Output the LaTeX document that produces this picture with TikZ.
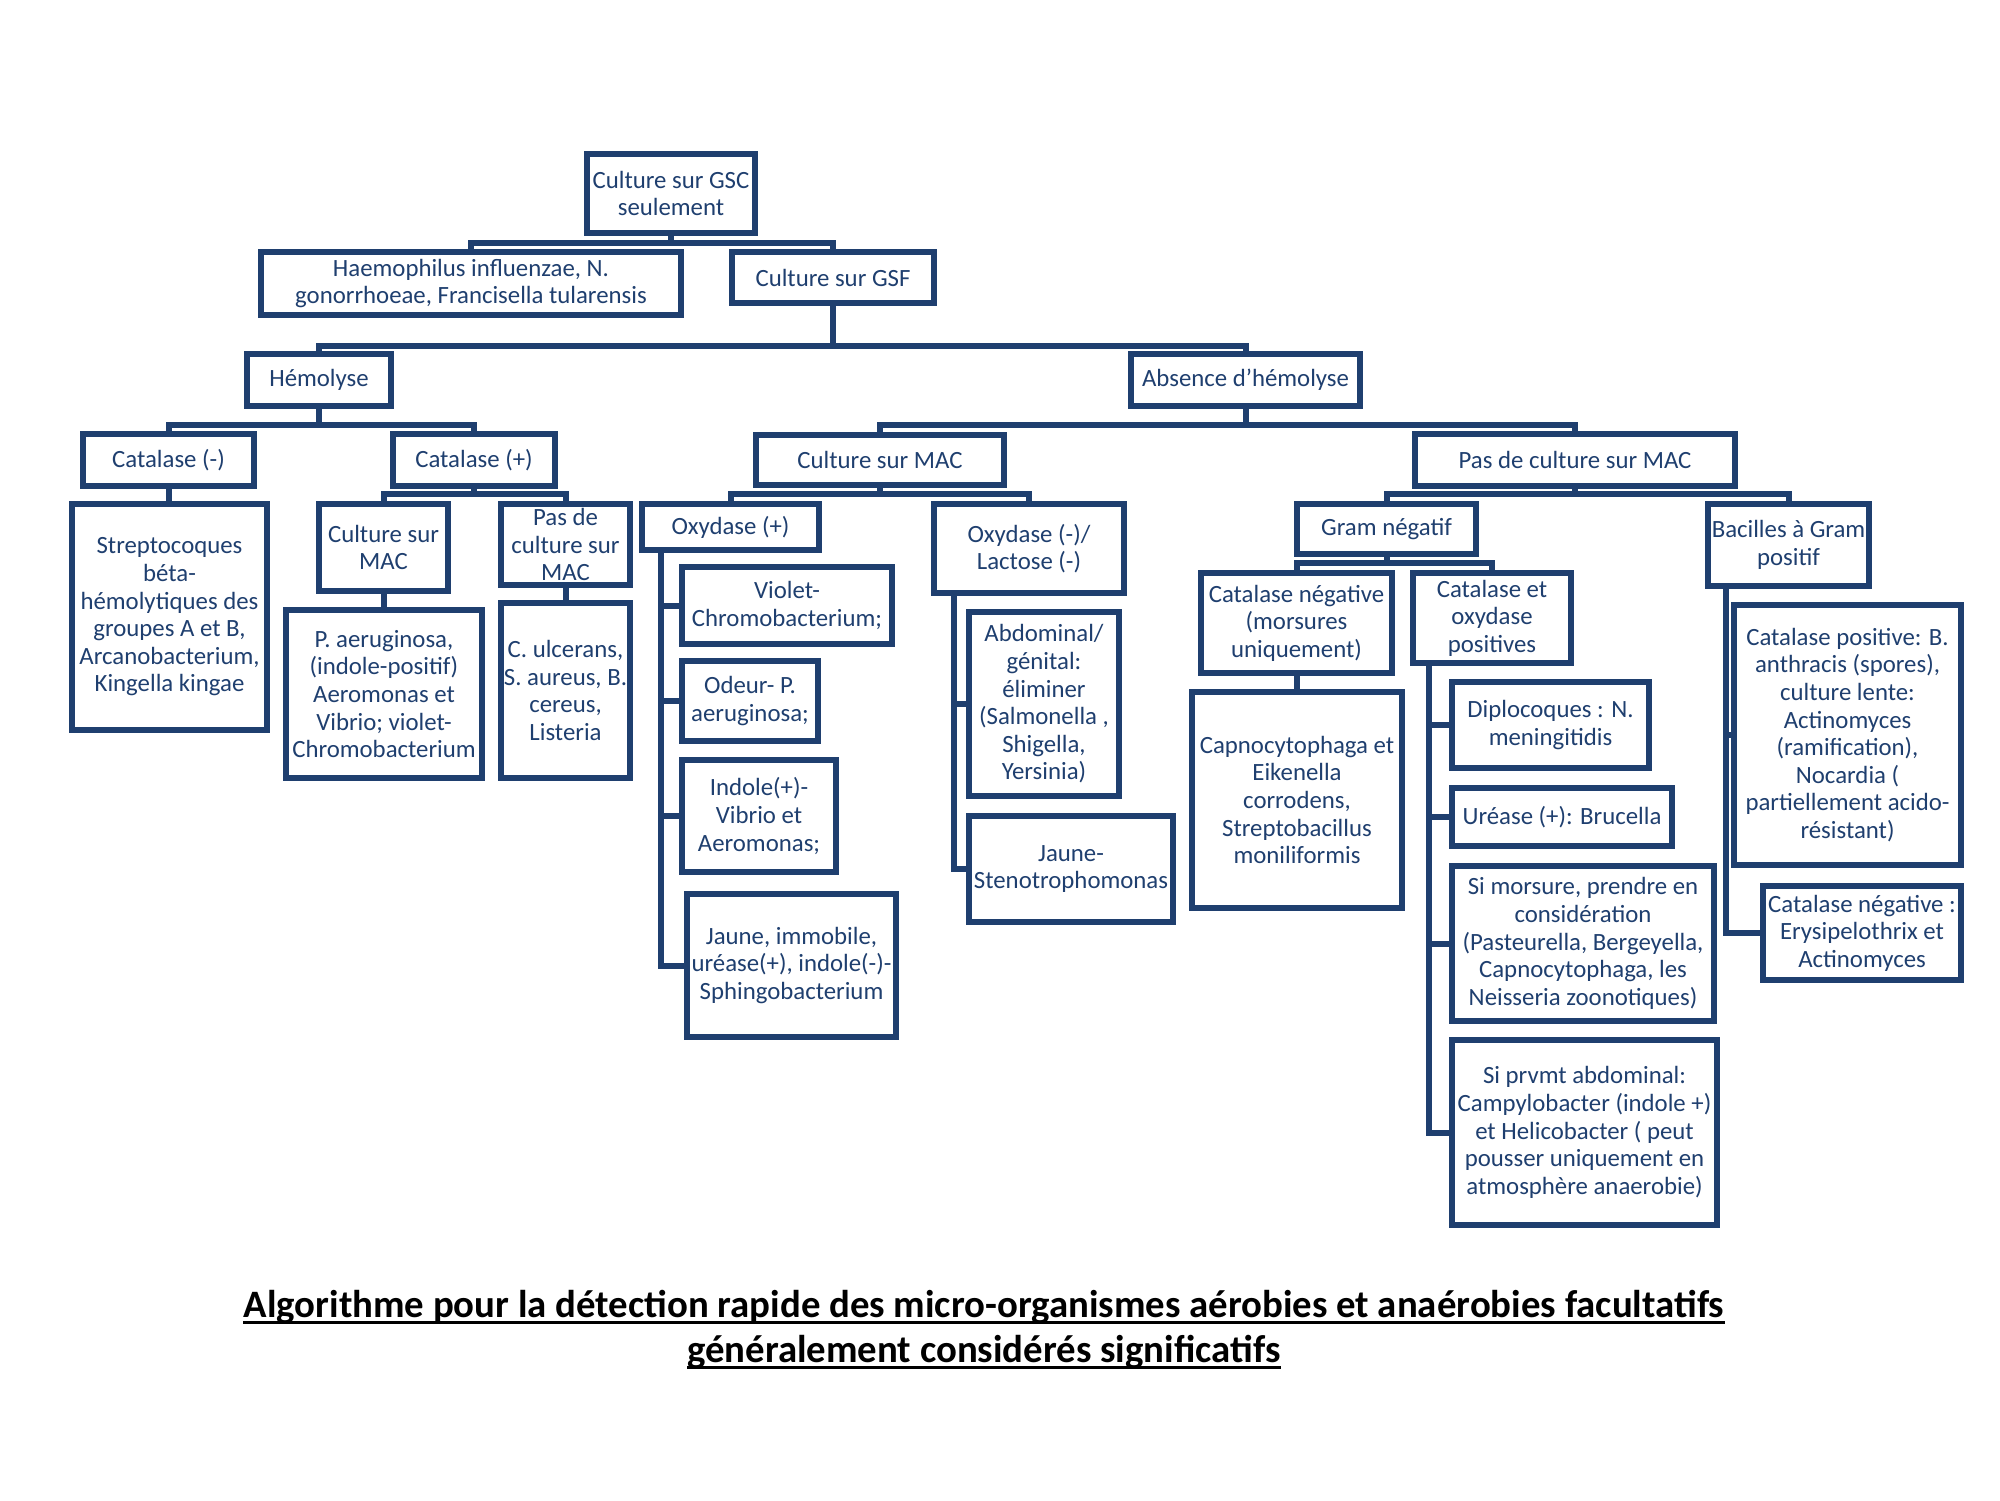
\documentclass[tikz,border=0pt]{standalone}
\usepackage{fontspec}
\setmainfont{Carlito}
\definecolor{navy}{HTML}{1F3F6F}
\tikzset{
  box/.style={draw=navy, line width=3.1pt, fill=white, inner sep=0pt, outer sep=0pt, line join=miter},
  txt/.style={text=navy, align=center, font=\fontsize{12.4}{13.8}\selectfont, inner sep=0pt},
  conn/.style={draw=navy, line width=3pt, line join=miter},
  ttl/.style={text=black, font=\bfseries\fontsize{19.4}{22}\selectfont, inner sep=0pt},
  ul/.style={draw=black, line width=1.5pt}
}
\newcommand\bx[6]{%
  \node[box, minimum width={(#4-#2)*0.5pt}, minimum height={(#5-#3)*0.5pt}] (#1) at ({(#2+#4)/2},{(#3+#5)/2}) {};
  \node[txt] (#1t) at (#1.center) {#6};}
\begin{document}
\begin{tikzpicture}[x=0.5pt,y=-0.5pt]
\useasboundingbox[fill=white] (0,0) rectangle (2000,1500);
% boxes
\bx{root}{587}{154}{755}{233}{Culture sur GSC\\seulement}
\bx{haem}{261}{252}{681}{315}{Haemophilus influenzae, N.\\gonorrhoeae, Francisella tularensis}
\bx{gsf}{732}{252}{934}{303}{Culture sur GSF}
\bx{hemo}{247}{354}{391}{406}{Hémolyse}
\bx{absh}{1131}{354}{1360}{406}{Absence d’hémolyse}
\bx{catm}{83}{434}{254}{486}{Catalase (-)}
\bx{catp}{393}{434}{555}{486}{Catalase (+)}
\bx{cmac}{756}{435}{1004}{485}{Culture sur MAC}
\bx{pmac}{1415}{434}{1735}{486}{Pas de culture sur MAC}
\bx{strep}{72}{504}{267}{730}{Streptocoques\\béta-\\hémolytiques des\\groupes A et B,\\Arcanobacterium,\\Kingella kingae}
\bx{cmacb}{319}{504}{448}{591}{Culture sur\\MAC}
\bx{pmacb}{501}{504}{630}{585}{Pas de\\culture sur\\MAC}
\bx{paer}{286}{610}{482}{778}{P. aeruginosa,\\(indole-positif)\\Aeromonas et\\Vibrio; violet-\\Chromobacterium}
\bx{culc}{501}{603}{630}{778}{C. ulcerans,\\S. aureus, B.\\cereus,\\Listeria}
\bx{oxp}{642}{504}{819}{550}{Oxydase (+)}
\bx{oxm}{934}{504}{1124}{593}{Oxydase (-)/\\Lactose (-)}
\bx{viol}{682}{567}{892}{644}{Violet-\\Chromobacterium;}
\bx{odeur}{682}{661}{818}{741}{Odeur- P.\\aeruginosa;}
\bx{indole}{682}{760}{836}{872}{Indole(+)-\\Vibrio et\\Aeromonas;}
\bx{jaune}{687}{894}{896}{1037}{Jaune, immobile,\\uréase(+), indole(-)-\\Sphingobacterium}
\bx{abdo}{969}{612}{1119}{796}{Abdominal/\\génital:\\éliminer\\(Salmonella ,\\Shigella,\\Yersinia)}
\bx{steno}{969}{816}{1173}{922}{Jaune-\\Stenotrophomonas}
\bx{gram}{1297}{504}{1476}{554}{Gram négatif}
\bx{bac}{1708}{504}{1869}{586}{Bacilles à Gram\\positif}
\bx{catn}{1201}{573}{1392}{673}{Catalase négative\\(morsures\\uniquement)}
\bx{cato}{1413}{573}{1571}{663}{Catalase et\\oxydase\\positives}
\bx{capno}{1192}{692}{1402}{908}{Capnocytophaga et\\Eikenella\\corrodens,\\Streptobacillus\\moniliformis}
\bx{diplo}{1452}{682}{1649}{768}{Diplocoques : N.\\meningitidis}
\bx{ureas}{1452}{788}{1672}{846}{Uréase (+): Brucella}
\bx{simor}{1452}{866}{1714}{1021}{Si morsure, prendre en\\considération\\(Pasteurella, Bergeyella,\\Capnocytophaga, les\\Neisseria zoonotiques)}
\bx{siprv}{1452}{1040}{1717}{1225}{Si prvmt abdominal:\\Campylobacter (indole +)\\et Helicobacter ( peut\\pousser uniquement en\\atmosphère anaerobie)}
\bx{catpos}{1734}{605}{1961}{865}{Catalase positive: B.\\anthracis (spores),\\culture lente:\\Actinomyces\\(ramification),\\Nocardia (\\partiellement acido-\\résistant)}
\bx{catneg}{1763}{886}{1961}{980}{Catalase négative :\\Erysipelothrix et\\Actinomyces}
% connectors
\draw[conn] (root.south) -- ++(0,10);
\draw[conn] (haem.north) -- ++(0,-9) -| (gsf.north);
\draw[conn] (gsf.south) -- ++(0,43);
\draw[conn] (hemo.north) -- ++(0,-8) -| (absh.north);
\draw[conn] (hemo.south) -- ++(0,19);
\draw[conn] (catm.north) -- ++(0,-9) -| (catp.north);
\draw[conn] (absh.south) -- ++(0,19);
\draw[conn] (cmac.north) -- ++(0,-10) -| (pmac.north);
\draw[conn] (catm.south) -- (catm.south |- strep.north);
\draw[conn] (catp.south) -- ++(0,8);
\draw[conn] (cmacb.north) -- ++(0,-10) -| (pmacb.north);
\draw[conn] (cmacb.south) -- (cmacb.south |- paer.north);
\draw[conn] (pmacb.south) -- (pmacb.south |- culc.north);
\draw[conn] (cmac.south) -- ++(0,9);
\draw[conn] (oxp.north) -- ++(0,-10) -| (oxm.north);
\coordinate (s1) at ([xshift=9.5pt]oxp.south west);
\draw[conn] (s1) |- (jaune.west);
\draw[conn] (s1 |- viol.west) -- (viol.west);
\draw[conn] (s1 |- odeur.west) -- (odeur.west);
\draw[conn] (s1 |- indole.west) -- (indole.west);
\coordinate (s2) at ([xshift=10pt]oxm.south west);
\draw[conn] (s2) |- (steno.west);
\draw[conn] (s2 |- abdo.west) -- (abdo.west);
\draw[conn] (pmac.south) -- ++(0,8);
\draw[conn] (gram.north) -- ++(0,-10) -| (bac.north);
\draw[conn] (gram.south) -- ++(0,9);
\draw[conn] (catn.north) -- ++(0,-10) -| (cato.north);
\draw[conn] (catn.south) -- (catn.south |- capno.north);
\coordinate (s3) at ([xshift=8pt]cato.south west);
\draw[conn] (s3) |- (siprv.west);
\draw[conn] (s3 |- diplo.west) -- (diplo.west);
\draw[conn] (s3 |- ureas.west) -- (ureas.west);
\draw[conn] (s3 |- simor.west) -- (simor.west);
\coordinate (s4) at ([xshift=9pt]bac.south west);
\draw[conn] (s4) |- (catneg.west);
\draw[conn] (s4 |- catpos.west) -- (catpos.west);
% title
\node[ttl, anchor=base] (t1) at (984,1317) {Algorithme pour la détection rapide des micro-organismes aérobies et anaérobies facultatifs};
\node[ttl, anchor=base] (t2) at (984,1362) {généralement considérés significatifs};
\draw[ul] ([yshift=-2.5pt]t1.base west) -- ([yshift=-2.5pt]t1.base east);
\draw[ul] ([yshift=-2.5pt]t2.base west) -- ([yshift=-2.5pt]t2.base east);
\end{tikzpicture}
\end{document}
